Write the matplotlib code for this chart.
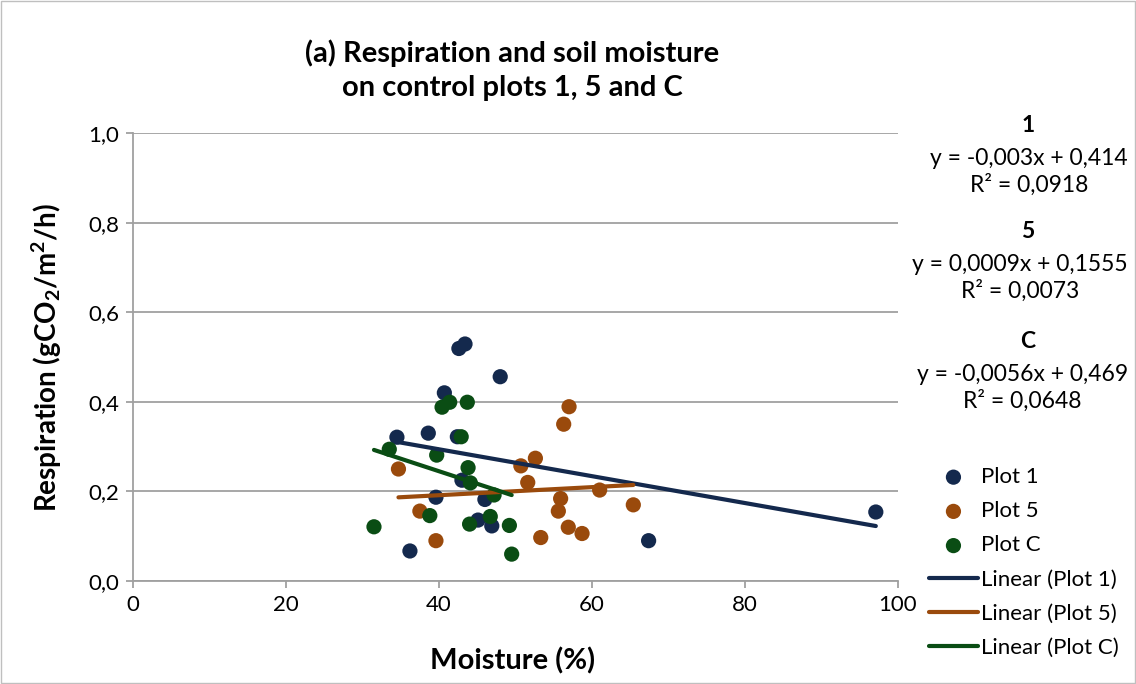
import matplotlib
matplotlib.use("Agg")
import matplotlib.pyplot as plt
from matplotlib.patches import Rectangle
from matplotlib.ticker import FuncFormatter
import numpy as np

plt.rcParams['font.family'] = ['Lato', 'DejaVu Sans']
plt.rcParams['mathtext.default'] = 'regular'

# data (moisture %, respiration)
plot1_x = [43.4, 42.6, 48.0, 40.7, 34.5, 38.6, 42.4, 43.0, 39.6, 46.0, 45.1, 46.9, 36.2, 67.4, 97.1]
plot1_y = [0.529, 0.519, 0.456, 0.420, 0.321, 0.330, 0.322, 0.225, 0.187, 0.182, 0.136, 0.123, 0.067, 0.090, 0.154]

plot5_x = [34.7, 37.5, 39.6, 50.7, 52.6, 51.6, 53.3, 57.0, 56.3, 55.9, 61.0, 65.4, 55.6, 56.9, 58.7]
plot5_y = [0.250, 0.156, 0.090, 0.257, 0.274, 0.220, 0.097, 0.389, 0.350, 0.184, 0.203, 0.170, 0.156, 0.120, 0.106]

plotC_x = [40.4, 41.4, 43.7, 42.9, 33.5, 39.7, 43.8, 44.1, 47.2, 38.8, 31.5, 44.0, 46.7, 49.2, 49.5]
plotC_y = [0.388, 0.399, 0.399, 0.322, 0.294, 0.281, 0.253, 0.219, 0.192, 0.146, 0.121, 0.127, 0.144, 0.124, 0.060]

# trendline coefficients as printed on the chart (slope, intercept)
trend1 = (-0.003, 0.414)
trend5 = (0.0009, 0.1555)
trendC = (-0.0056, 0.469)

heads = ["1", "5", "C"]
eqs = ["y = -0,003x + 0,414\nR² = 0,0918",
       "y = 0,0009x + 0,1555\nR² = 0,0073",
       "y = -0,0056x + 0,469\nR² = 0,0648"]

blue = "#14294d"
orange = "#9a4a0c"
green = "#0a4d14"

fig = plt.figure(figsize=(11.36, 6.84), dpi=100)
ax = fig.add_axes([133 / 1136, 103 / 684, 765 / 1136, 448 / 684])

series = [(plot1_x, plot1_y, trend1, blue, "1"),
          (plot5_x, plot5_y, trend5, orange, "5"),
          (plotC_x, plotC_y, trendC, green, "C")]

for xs, ys, tr, col, name in series:
    ax.scatter(xs, ys, s=120, color=col, edgecolors='none', zorder=3, label="Plot " + name)

for xs, ys, tr, col, name in series:
    lx = np.array([min(xs), max(xs)])
    ax.plot(lx, tr[0] * lx + tr[1], color=col, lw=3, solid_capstyle='round',
            zorder=4, label="Linear (Plot " + name + ")")

ax.set_xlim(0, 100)
ax.set_ylim(0, 1.0)
ax.set_xticks(range(0, 101, 20))
ax.set_yticks(np.arange(0, 1.01, 0.2))
ax.yaxis.set_major_formatter(FuncFormatter(lambda v, p: f"{v:.1f}".replace(".", ",")))
ax.grid(axis='y', color='#a0a0a0', lw=1.3)
ax.set_axisbelow(True)
for s in ['top', 'right']:
    ax.spines[s].set_visible(False)
for s in ['left', 'bottom']:
    ax.spines[s].set_color('#a0a0a0')
    ax.spines[s].set_linewidth(1.3)
ax.tick_params(colors='#a0a0a0', length=5, width=1.3, labelsize=16, labelcolor='black', pad=5)

fig.text(512 / 1136, 1 - 70 / 684, "(a) Respiration and soil moisture\non control plots 1, 5 and C",
         ha='center', va='center', fontsize=21, fontweight='bold', linespacing=1.4)
fig.text(47 / 1136, 1 - 358 / 684, r"Respiration (gCO$_2$/m$^2$/h)", rotation=90,
         ha='center', va='center', fontsize=20, fontweight='bold')
fig.text(513 / 1136, 1 - 661 / 684, "Moisture (%)", ha='center', va='center',
         fontsize=21, fontweight='bold')

# trendline labels
for head, eq, yc in zip(heads, eqs, [157, 263, 373]):
    fig.text(1028 / 1136, 1 - (yc - 31) / 684, head, ha='center', va='center',
             fontsize=16.5, fontweight='bold')
    fig.text(1128 / 1136, 1 - (yc + 15) / 684, eq, ha='right', va='center',
             multialignment='center', fontsize=16.5, linespacing=1.3)

leg = ax.legend(loc='upper left', bbox_to_anchor=(929 / 1136, 1 - 467 / 684),
                bbox_transform=fig.transFigure, frameon=False, fontsize=16,
                handlelength=2.2, handletextpad=0.15, labelspacing=0.64,
                borderaxespad=0, borderpad=0)

fig.patches.append(Rectangle((0.001, 0.001), 0.998, 0.998, transform=fig.transFigure,
                             fill=False, edgecolor='#bfbfbf', lw=1))

fig.savefig("out.png", dpi=100)
